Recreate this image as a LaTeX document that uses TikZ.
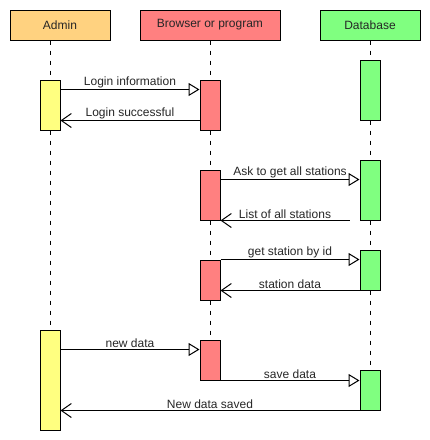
\documentclass[tikz,border=0pt]{standalone}
\usepackage{fontspec}
\setmainfont{Liberation Sans}
\usepackage{xcolor}
\usetikzlibrary{arrows.meta,backgrounds}

\definecolor{adminhead}{HTML}{FFD280}
\definecolor{adminact}{HTML}{FFFF80}
\definecolor{browsercol}{HTML}{FF8080}
\definecolor{dbcol}{HTML}{80FF80}
\definecolor{txt}{HTML}{262626}

\begin{document}
\begin{tikzpicture}[x=1pt, y=-1pt, line width=1pt,
    head/.style={shape=rectangle, draw, minimum height=30pt, inner sep=0pt,
      text=txt, font=\fontsize{12}{14}\selectfont},
    act/.style={shape=rectangle, draw, minimum width=20pt, inner sep=0pt},
    life/.style={dash pattern=on 4pt off 6pt},
    msg/.style={-{Triangle[open, length=11pt, width=13pt]}},
    reply/.style={-{Straight Barb[length=10pt, width=14pt]}},
    lbl/.style={midway, above, inner sep=1pt, text=txt, font=\fontsize{12}{14}\selectfont}]
    \useasboundingbox (0,0) rectangle (430,440);

    % headers
    \node[head, fill=adminhead, minimum width=100pt] (admin) at (60,25) {Admin};
    \node[head, fill=browsercol, minimum width=140pt] (browser) at (210,25) {Browser or program};
    \node[head, fill=dbcol, minimum width=100pt] (db) at (370,25) {Database};

    % activations
    \node[act, fill=adminact, minimum height=50pt] (a1) at (50,105) {};
    \node[act, fill=browsercol, minimum height=50pt] (b1) at (210,105) {};
    \node[act, fill=dbcol, minimum height=60pt] (d1) at (370,90) {};
    \node[act, fill=browsercol, minimum height=50pt] (b2) at (210,195) {};
    \node[act, fill=dbcol, minimum height=60pt] (d2) at (370,190) {};
    \node[act, fill=browsercol, minimum height=40pt] (b3) at (210,280) {};
    \node[act, fill=dbcol, minimum height=40pt] (d3) at (370,270) {};
    \node[act, fill=adminact, minimum height=100pt] (a2) at (50,380) {};
    \node[act, fill=browsercol, minimum height=40pt] (b4) at (210,360) {};
    \node[act, fill=dbcol, minimum height=40pt] (d4) at (370,390) {};

    % lifelines
    \begin{scope}[on background layer]
      \draw[life] (admin.south -| a2.north) -- (a2.north);
      \draw[life] (browser.south) -- (b4.north);
      \draw[life] (db.south) -- (d4.north);
    \end{scope}

    % messages
    \draw[msg] ([yshift=-10pt]a1.north east) -- ([yshift=-10pt]b1.north west)
      node[lbl]{Login information};
    \draw[reply] ([yshift=10pt]b1.south west) -- ([yshift=10pt]a1.south east)
      node[lbl]{Login successful};
    \draw[msg] ([yshift=-10pt]b2.north east) -- ([yshift=-10pt]b2.north east -| d2.west)
      node[lbl]{Ask to get all stations};
    \draw[reply] ([xshift=-10pt]d2.south west) -- (b2.south east)
      node[lbl]{List of all stations};
    \draw[msg] (b3.north east) -- (b3.north east -| d3.west)
      node[lbl]{get station by id};
    \draw[reply] (d3.south west) -- (d3.south west -| b3.east)
      node[lbl]{station data};
    \draw[msg] ([yshift=-10pt]b4.north west -| a2.east) -- ([yshift=-10pt]b4.north west)
      node[lbl]{new data};
    \draw[msg] (b4.south east) -- (b4.south east -| d4.west)
      node[lbl]{save data};
    \draw[reply] (d4.south west) -- (d4.south west -| a2.east)
      node[lbl]{New data saved};
\end{tikzpicture}
\end{document}
